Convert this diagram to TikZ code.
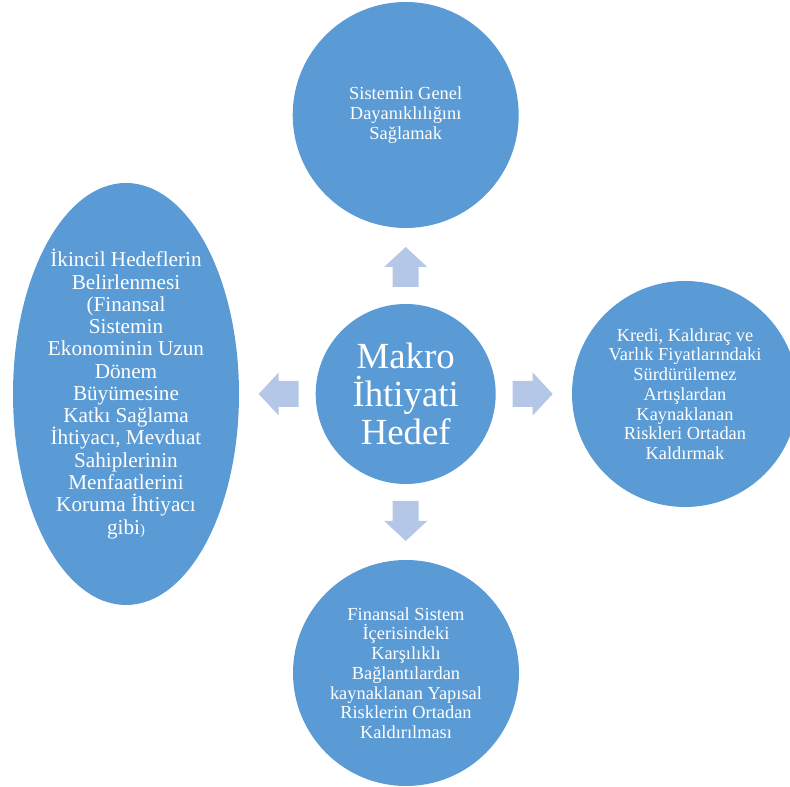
\documentclass[tikz,border=0pt]{standalone}
\usepackage{fontspec}
\setmainfont{Liberation Serif}
\usetikzlibrary{shapes.geometric}

\definecolor{goalblue}{HTML}{5B9BD5}
\definecolor{arrowblue}{HTML}{B4C7E7}

\begin{document}
\begin{tikzpicture}[x=0.75pt,y=0.75pt,
 goal/.style={circle,fill=goalblue,text=white,inner sep=0pt,
  minimum size=169.5pt,align=center,font=\fontsize{13.8}{14.8}\selectfont},
 core/.style={goal,minimum size=135pt,font=\fontsize{27.6}{28.7}\selectfont},
 side/.style={goal,ellipse,minimum width=169.5pt,minimum height=316.5pt,
  font=\fontsize{15.9}{16.7}\selectfont}]

\clip (0,0) rectangle (790,787);

\newcommand{\blockarrow}[1] % [angle]
{
 \begin{scope}[shift={(m.center)},rotate=#1]
  \fill[arrowblue] (107,-13) -- (127,-13) -- (127,-21.5) -- (147,0)
   -- (127,21.5) -- (127,13) -- (107,13) -- cycle;
 \end{scope}
}

\node[core] (m) at (405.7,393) {Makro\\İhtiyati\\Hedef};

\node[goal] (t) at (405.7,672) {Sistemin Genel\\Dayanıklılığını\\Sağlamak};
\node[goal] (r) at (685,393) {Kredi, Kaldıraç ve\\Varlık Fiyatlarındaki\\Sürdürülemez\\Artışlardan\\Kaynaklanan\\Riskleri Ortadan\\Kaldırmak};
\node[goal] (b) at (406,114) {Finansal Sistem\\İçerisindeki\\Karşılıklı\\Bağlantılardan\\kaynaklanan Yapısal\\Risklerin Ortadan\\Kaldırılması};
\node[side] (l) at (126,393) {İkincil Hedeflerin\\Belirlenmesi\\(Finansal\\Sistemin\\Ekonominin Uzun\\Dönem\\Büyümesine\\Katkı Sağlama\\İhtiyacı, Mevduat\\Sahiplerinin\\Menfaatlerini\\Koruma İhtiyacı\\gibi{\fontsize{11}{11}\selectfont)}};

\foreach \a in {0,90,180,270}
 {\blockarrow{\a}}

\end{tikzpicture}
\end{document}
